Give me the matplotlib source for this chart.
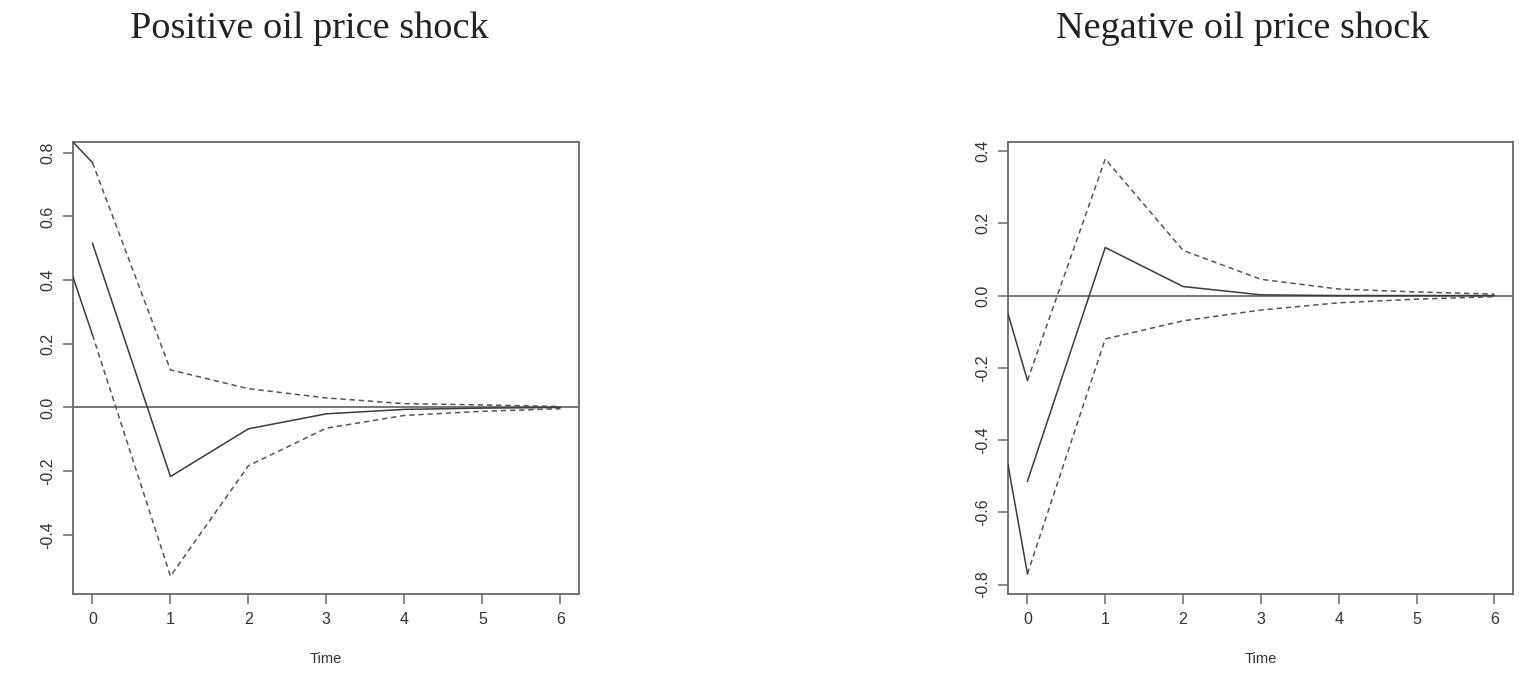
import matplotlib
matplotlib.use("Agg")
import matplotlib.pyplot as plt

plt.rcParams["font.family"] = ["Liberation Sans", "DejaVu Sans"]

# horizon (periods)
time = [0, 1, 2, 3, 4, 5, 6]

# positive oil price shock
pos_irf = [0.516, -0.217, -0.067, -0.020, -0.006, -0.002, 0.000]
pos_upper = [0.769, 0.118, 0.059, 0.030, 0.012, 0.008, 0.003]
pos_lower = [0.228, -0.530, -0.183, -0.065, -0.025, -0.012, -0.004]
# short solid pieces entering from the left border
pos_lead_x = [-0.25, 0]
pos_lead_hi = [0.834, 0.769]
pos_lead_lo = [0.410, 0.228]

# negative oil price shock
neg_irf = [-0.514, 0.133, 0.025, 0.002, 0.000, 0.000, 0.000]
neg_upper = [-0.235, 0.378, 0.125, 0.045, 0.018, 0.010, 0.004]
neg_lower = [-0.770, -0.120, -0.070, -0.040, -0.020, -0.010, -0.003]
neg_lead_x = [-0.25, 0]
neg_lead_hi = [-0.050, -0.235]
neg_lead_lo = [-0.468, -0.770]

pos_yticks = [-0.4, -0.2, 0.0, 0.2, 0.4, 0.6, 0.8]
neg_yticks = [-0.8, -0.6, -0.4, -0.2, 0.0, 0.2, 0.4]

W, H = 1527, 680
fig = plt.figure(figsize=(W / 100, H / 100), dpi=100)

line_col = "#3c3c3c"
dash_col = "#555555"
frame_col = "#6a6a6a"
text_col = "#333333"


def panel(box, irf, upper, lower, lead_x, lead_hi, lead_lo, ylim, yticks):
    ax = fig.add_axes([box[0] / W, 1 - box[3] / H, (box[2] - box[0]) / W, (box[3] - box[1]) / H])
    ax.axhline(0, color="#777777", lw=1.4, zorder=1)
    ax.plot(time, irf, color=line_col, lw=1.1, zorder=3)
    ax.plot(time, upper, color=dash_col, lw=1.1, ls=(0, (3.5, 2.5)), zorder=2)
    ax.plot(time, lower, color=dash_col, lw=1.1, ls=(0, (3.5, 2.5)), zorder=2)
    ax.plot(lead_x, lead_hi, color=line_col, lw=1.1, zorder=3)
    ax.plot(lead_x, lead_lo, color=line_col, lw=1.1, zorder=3)
    ax.set_xlim(-0.25, 6.24)
    ax.set_ylim(*ylim)
    ax.set_xticks(time)
    ax.set_yticks(yticks)
    ax.set_yticklabels(["%.1f" % v for v in yticks], rotation=90, va="center")
    ax.tick_params(direction="out", length=7, width=1.1, color=frame_col,
                   labelsize=11.5, labelcolor=text_col, pad=6)
    for s in ax.spines.values():
        s.set_color(frame_col)
        s.set_linewidth(1.3)
    ax.set_xlabel("Time", fontsize=10.5, color=text_col, labelpad=18)
    return ax


panel((73, 142, 579, 594), pos_irf, pos_upper, pos_lower,
      pos_lead_x, pos_lead_hi, pos_lead_lo, (-0.586, 0.834), pos_yticks)
panel((1008, 142, 1513, 594), neg_irf, neg_upper, neg_lower,
      neg_lead_x, neg_lead_hi, neg_lead_lo, (-0.826, 0.425), neg_yticks)

fig.text(309 / W, 1 - 29 / H, "Positive oil price shock", family="Liberation Serif",
         fontsize=27.5, color="#222222", ha="center", va="center")
fig.text(1243 / W, 1 - 29 / H, "Negative oil price shock", family="Liberation Serif",
         fontsize=27.5, color="#222222", ha="center", va="center")

fig.savefig("out.png", dpi=100)
